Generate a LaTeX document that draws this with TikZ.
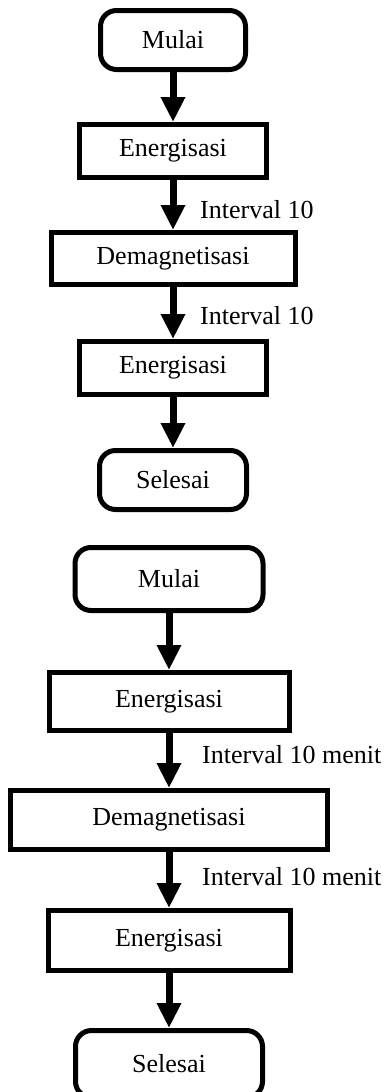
\documentclass[tikz,border=0pt]{standalone}
\usepackage{fontspec}
\setmainfont{Liberation Serif}
\usetikzlibrary{arrows.meta}
\begin{document}
\begin{tikzpicture}[x=1pt,y=1pt,
  every node/.style={font=\fontsize{26}{31}\selectfont, inner sep=0pt},
  term/.style={draw, line width=5pt, rounded corners=16pt},
  proc/.style={draw, line width=5pt},
  flow/.style={line width=7pt, -{Triangle[width=23pt,length=25pt]}},
  lbl/.style={anchor=base west}
]
\useasboundingbox (0,0) rectangle (385,-1092);
% top diagram
\node[term, minimum width=145pt, minimum height=59pt] (m1) at (173,-40) {Mulai};
\node[proc, minimum width=187pt, minimum height=53pt] (e1) at (173,-151) {Energisasi};
\node[proc, minimum width=244pt, minimum height=52pt] (d1) at (173,-258.5) {Demagnetisasi};
\node[proc, minimum width=187pt, minimum height=53pt] (e2) at (173,-368) {Energisasi};
\node[term, minimum width=147pt, minimum height=59pt] (s1) at (173,-480) {Selesai};
\draw[flow] (m1) -- (e1);
\draw[flow] (e1) -- (d1);
\draw[flow] (d1) -- (e2);
\draw[flow] (e2) -- (s1);
\node[lbl] (l1) at (200,-218) {Interval 10};
\node[lbl] (l2) at (200,-324) {Interval 10};
% bottom diagram
\node[term, minimum width=188pt, minimum height=63pt] (m2) at (169,-579) {Mulai};
\node[proc, minimum width=240pt, minimum height=58pt] (e3) at (169,-701.5) {Energisasi};
\node[proc, minimum width=317pt, minimum height=59pt] (d2) at (169,-820) {Demagnetisasi};
\node[proc, minimum width=242pt, minimum height=60pt] (e4) at (169,-940.5) {Energisasi};
\node[term, minimum width=187pt, minimum height=67pt] (s2) at (169,-1064) {Selesai};
\draw[flow] (m2) -- (e3);
\draw[flow] (e3) -- (d2);
\draw[flow] (d2) -- (e4);
\draw[flow] (e4) -- (s2);
\node[lbl] (l3) at (202,-763) {Interval 10 menit};
\node[lbl] (l4) at (202,-885) {Interval 10 menit};
\end{tikzpicture}
\end{document}
